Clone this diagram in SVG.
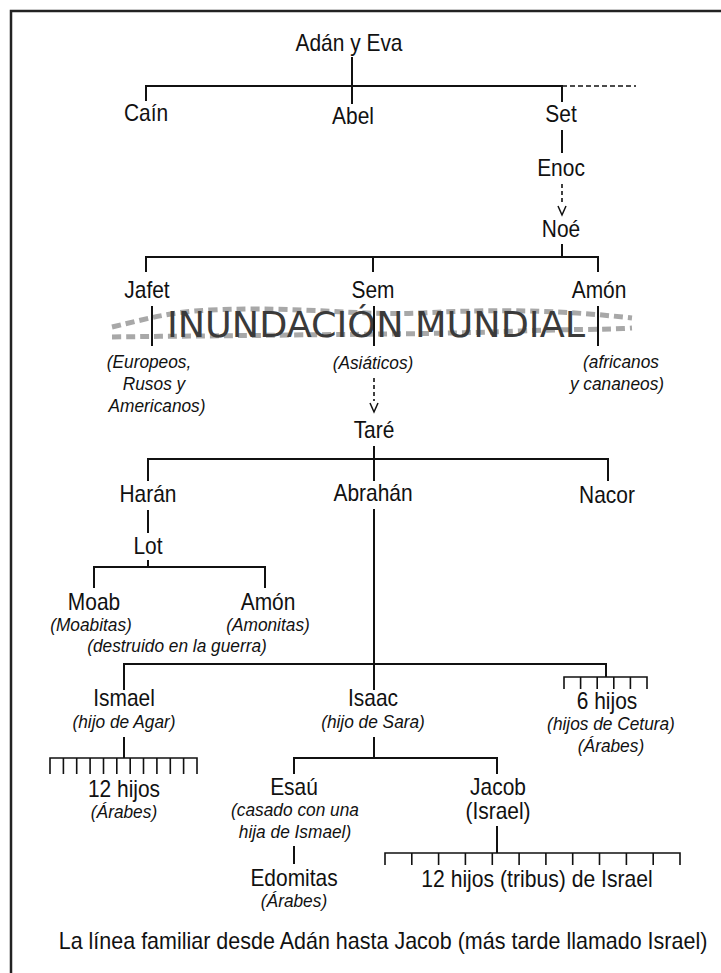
<svg xmlns="http://www.w3.org/2000/svg" width="721" height="973" viewBox="0 0 721 973">
<style>
.n{font-family:"Liberation Sans",Arial,sans-serif;font-size:23px;fill:#111;text-anchor:middle}
.s{font-family:"Liberation Sans",Arial,sans-serif;font-size:19px;font-style:italic;fill:#111;text-anchor:middle}
.ln{fill:none;stroke:#111;stroke-width:2}
.tk{fill:none;stroke:#111;stroke-width:1.6}
.ds{fill:none;stroke:#111;stroke-width:1.6;stroke-dasharray:4 3}
.ar{fill:none;stroke:#111;stroke-width:1.5}
.wv{fill:none;stroke:#a8a8a8;stroke-width:5;stroke-dasharray:9 5}
</style>
<rect x="0" y="0" width="721" height="973" fill="#fff"/>
<path d="M11,973 V11 H721" fill="none" stroke="#222" stroke-width="2.5"/>

<g id="flood">
<path class="wv" d="M112,327 C150,318 170,312 210,310 C300,306 360,316 420,313 C500,309 560,310 632,318"/>
<path class="wv" d="M112,337 C170,336 220,336 290,335 C380,334 440,334 520,331 C570,329 600,330 632,328"/>
<text x="376" y="337" font-family="'DejaVu Sans',Verdana,sans-serif" font-size="35" fill="#3a3a3a" text-anchor="middle" textLength="418" lengthAdjust="spacingAndGlyphs">INUNDACIÓN MUNDIAL</text>
</g>

<g id="connectors">
<path class="ln" d="M352,57 V104"/>
<path class="ln" d="M146,101 V86 H562 V102"/>
<path class="ds" d="M562,86 H636" style="stroke-dasharray:5 3"/>
<path class="ln" d="M562,130 V153"/>
<path class="ds" d="M562,184 V205"/>
<polyline class="ar" points="558,206 562,215 566,206"/>
<path class="ln" d="M562,244 V257"/>
<path class="ln" d="M146,272 V257 H598 V272"/>
<path class="ln" d="M373,257 V272"/>
<path class="ln" d="M152,306 V346"/>
<path class="ln" d="M374,306 V346"/>
<path class="ln" d="M598,306 V346"/>
<path class="ds" d="M374,378 V401"/>
<polyline class="ar" points="370,403 374,412 378,403"/>
<path class="ln" d="M374,446 V481"/>
<path class="ln" d="M148,481 V459 H608 V481"/>
<path class="ln" d="M148,510 V533"/>
<path class="ln" d="M148,560 V567"/>
<path class="ln" d="M94,588 V567 H265 V588"/>
<path class="ln" d="M374,509 V690"/>
<path class="ln" d="M124,690 V664 H606 V677"/>
<path class="tk" d="M564,689 V677 H647 V689 M580.6,677 V689 M597.2,677 V689 M613.8,677 V689 M630.4,677 V689"/>
<path class="ln" d="M124,737 V758"/>
<path class="tk" d="M50,774 V758 H197 V774 M63.4,758 V774 M76.7,758 V774 M90.1,758 V774 M103.5,758 V774 M116.8,758 V774 M130.2,758 V774 M143.5,758 V774 M156.9,758 V774 M170.3,758 V774 M183.6,758 V774"/>
<path class="ln" d="M374,737 V758"/>
<path class="ln" d="M294,774 V758 H497 V774"/>
<path class="ln" d="M294,846 V864"/>
<path class="ln" d="M497,826 V853"/>
<path class="tk" d="M385,865 V853 H680 V865 M411.8,853 V865 M438.6,853 V865 M465.4,853 V865 M492.3,853 V865 M519.1,853 V865 M545.9,853 V865 M572.7,853 V865 M599.5,853 V865 M626.4,853 V865 M653.2,853 V865"/>
</g>

<g id="adan"><text class="n" transform="translate(349,51) scale(0.91,1)">Adán y Eva</text></g>
<g id="cain"><text class="n" transform="translate(146,121) scale(0.91,1)">Caín</text></g>
<g id="abel"><text class="n" transform="translate(353,124) scale(0.91,1)">Abel</text></g>
<g id="set"><text class="n" transform="translate(561,122) scale(0.91,1)">Set</text></g>
<g id="enoc"><text class="n" transform="translate(561,176) scale(0.91,1)">Enoc</text></g>
<g id="noe"><text class="n" transform="translate(561,237) scale(0.91,1)">Noé</text></g>
<g id="jafet"><text class="n" transform="translate(147,298) scale(0.91,1)">Jafet</text>
<text class="s" transform="translate(149,368) scale(0.91,1)">(Europeos,</text><text class="s" transform="translate(154,390) scale(0.91,1)">Rusos y</text><text class="s" transform="translate(157,412) scale(0.91,1)">Americanos)</text></g>
<g id="sem"><text class="n" transform="translate(373,298) scale(0.91,1)">Sem</text><text class="s" transform="translate(373,369) scale(0.91,1)">(Asiáticos)</text></g>
<g id="amon1"><text class="n" transform="translate(599,298) scale(0.91,1)">Amón</text>
<text class="s" transform="translate(621,368) scale(0.91,1)">(africanos</text><text class="s" transform="translate(617,390) scale(0.91,1)">y cananeos)</text></g>
<g id="tare"><text class="n" transform="translate(374,438) scale(0.91,1)">Taré</text></g>
<g id="haran"><text class="n" transform="translate(148,502) scale(0.91,1)">Harán</text></g>
<g id="abrahan"><text class="n" transform="translate(373,501) scale(0.91,1)">Abrahán</text></g>
<g id="nacor"><text class="n" transform="translate(607,503) scale(0.91,1)">Nacor</text></g>
<g id="lot"><text class="n" transform="translate(148,554) scale(0.91,1)">Lot</text></g>
<g id="moab"><text class="n" transform="translate(94,610) scale(0.91,1)">Moab</text><text class="s" transform="translate(91,631) scale(0.91,1)">(Moabitas)</text></g>
<g id="amon2"><text class="n" transform="translate(268,610) scale(0.91,1)">Amón</text><text class="s" transform="translate(268,631) scale(0.91,1)">(Amonitas)</text>
<text class="s" transform="translate(177,652) scale(0.91,1)">(destruido en la guerra)</text></g>
<g id="ismael"><text class="n" transform="translate(124,706) scale(0.91,1)">Ismael</text><text class="s" transform="translate(124,728) scale(0.91,1)">(hijo de Agar)</text></g>
<g id="isaac"><text class="n" transform="translate(373,706) scale(0.91,1)">Isaac</text><text class="s" transform="translate(373,728) scale(0.91,1)">(hijo de Sara)</text></g>
<g id="seis"><text class="n" transform="translate(607,709) scale(0.91,1)">6 hijos</text><text class="s" transform="translate(611,730) scale(0.91,1)">(hijos de Cetura)</text><text class="s" transform="translate(611,752) scale(0.91,1)">(Árabes)</text></g>
<g id="doce"><text class="n" transform="translate(124,797) scale(0.91,1)">12 hijos</text><text class="s" transform="translate(124,818) scale(0.91,1)">(Árabes)</text></g>
<g id="esau"><text class="n" transform="translate(294,795) scale(0.91,1)">Esaú</text><text class="s" transform="translate(295,816) scale(0.91,1)">(casado con una</text><text class="s" transform="translate(295,838) scale(0.91,1)">hija de Ismael)</text></g>
<g id="jacob"><text class="n" transform="translate(498,795) scale(0.91,1)">Jacob</text><text class="n" transform="translate(498,819) scale(0.91,1)">(Israel)</text></g>
<g id="edomitas"><text class="n" transform="translate(294,886) scale(0.91,1)">Edomitas</text><text class="s" transform="translate(294,907) scale(0.91,1)">(Árabes)</text></g>
<g id="tribus"><text class="n" transform="translate(537,887) scale(0.92,1)">12 hijos (tribus) de Israel</text></g>
<g id="caption"><text class="n" transform="translate(383,949) scale(0.935,1)">La línea familiar desde Adán hasta Jacob (más tarde llamado Israel)</text></g>
</svg>
